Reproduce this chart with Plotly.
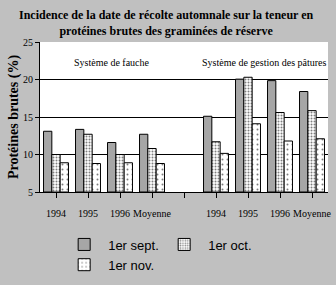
import plotly.graph_objects as go

categories = ["1994", "1995", "1996", "Moyenne", "", "1994", "1995", "1996", "Moyenne"]
x_fauche = [0, 1, 2, 3]
x_pature = [5, 6, 7, 8]

sept_fauche = [13.1, 13.35, 11.6, 12.7]
oct_fauche = [10.0, 12.7, 10.0, 10.8]
nov_fauche = [8.9, 8.8, 8.9, 8.8]

sept_pature = [15.1, 20.05, 19.85, 18.4]
oct_pature = [11.7, 20.3, 15.6, 15.85]
nov_pature = [10.15, 14.1, 11.8, 12.1]

y_base = 5

series = [
    ("1er sept.", sept_fauche + sept_pature, dict(shape=".", size=2, solidity=0.7), "legend"),
    ("1er oct.", oct_fauche + oct_pature, dict(shape=".", size=3, solidity=0.35), "legend"),
    ("1er nov.", nov_fauche + nov_pature, dict(shape=".", size=5, solidity=0.12), "legend2"),
]

serif = "Liberation Serif, Times New Roman, serif"
sans = "Liberation Sans, Arial, sans-serif"
bg = "#c0c0c0"

fig = go.Figure()
for name, vals, pat, lg in series:
    fig.add_trace(go.Bar(
        name=name,
        x=x_fauche + x_pature,
        y=[v - y_base for v in vals],
        base=y_base,
        legend=lg,
        marker=dict(
            color="white",
            line=dict(color="black", width=1),
            pattern=dict(fgcolor="black", bgcolor="white", fillmode="overlay", **pat),
        ),
    ))

pw, ph = 336 - 40 - 5, 285 - 42 - 85

fig.update_layout(
    width=336, height=285,
    margin=dict(l=40, r=5, t=42, b=85),
    paper_bgcolor=bg, plot_bgcolor="white",
    barmode="group", bargap=0.22, bargroupgap=0,
    font=dict(family=serif, color="black"),
    xaxis=dict(
        range=[-0.5, 8.5], tickvals=list(range(9)), ticktext=categories,
        showgrid=False, zeroline=False, showline=True, linecolor="black", linewidth=1,
        ticks="outside", ticklen=5, tickcolor="black", ticklabelstandoff=7,
        tickfont=dict(family=serif, size=10, color="black"),
    ),
    yaxis=dict(
        range=[5, 25], tickvals=[5, 10, 15, 20, 25],
        showgrid=True, gridcolor="black", gridwidth=1, zeroline=False,
        showline=True, linecolor="black", linewidth=1,
        ticks="outside", ticklen=4, tickcolor="black",
        tickfont=dict(family=serif, size=10, color="black"),
        title=dict(text="Protéines brutes (%)", standoff=1,
                   font=dict(family=serif, size=14, color="black", weight="bold")),
    ),
    legend=dict(
        orientation="h", x=0.07, xanchor="left", y=-0.25, yanchor="top",
        bgcolor="rgba(0,0,0,0)", font=dict(family=sans, size=13, color="black"),
        entrywidth=47, entrywidthmode="pixels", itemwidth=38,
    ),
    legend2=dict(
        orientation="h", x=0.07, xanchor="left", y=-0.385, yanchor="top",
        bgcolor="rgba(0,0,0,0)", font=dict(family=sans, size=13, color="black"),
        itemwidth=38,
    ),
    annotations=[
        dict(text="Incidence de la date de récolte automnale sur la teneur en<br>protéines brutes des graminées de réserve",
             x=(168 - 40) / pw, y=(200 - 22) / ph, xref="paper", yref="paper",
             xanchor="center", yanchor="middle", showarrow=False,
             font=dict(family=serif, size=12, color="black", weight="bold")),
        dict(text="Système de fauche", x=1.74, y=22.3, xref="x", yref="y",
             showarrow=False, font=dict(family=serif, size=10, color="black")),
        dict(text="Système de gestion des pâtures", x=6.5, y=22.3, xref="x", yref="y",
             showarrow=False, font=dict(family=serif, size=10, color="black")),
    ],
)

fig.write_html("out.html")
